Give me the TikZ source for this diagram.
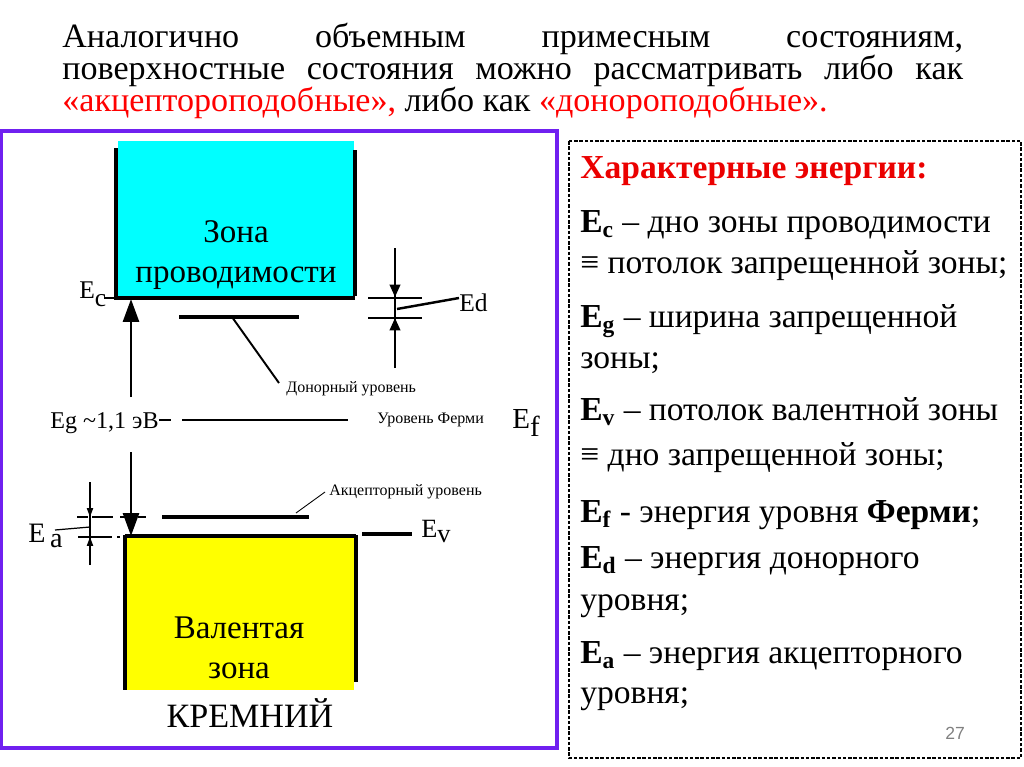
\documentclass[tikz,border=0pt]{standalone}
\usepackage{fontspec}
\setmainfont{Liberation Serif}
\setsansfont{Liberation Sans}
\usetikzlibrary{arrows.meta}
\definecolor{framepurple}{RGB}{112,32,240}
\definecolor{bandcyan}{RGB}{0,255,255}
\definecolor{bandyellow}{RGB}{255,255,0}
\definecolor{headred}{RGB}{235,0,0}
\newcommand{\titlesz}{\fontsize{19.4pt}{22pt}\selectfont}
\newcommand{\bigsz}{\fontsize{18.8pt}{22pt}\selectfont}
\newcommand{\listsz}{\fontsize{19.1pt}{22pt}\selectfont}
\newcommand{\smallsz}{\fontsize{9.1pt}{11pt}\selectfont}
\newcommand{\labsz}{\fontsize{13.7pt}{16pt}\selectfont}
\tikzset{%
  bandedge/.style={line width=2pt},
  level/.style={line width=2.2pt},
  thinline/.style={line width=0.7pt},
  bigtip/.style={line width=1.7pt, -{Triangle[length=13pt,width=9pt]}},
  smalltip/.style={line width=1.1pt, -{Triangle[length=7pt,width=6pt]}},
  tinytip/.style={line width=0.7pt, -{Triangle[length=5pt,width=3.5pt]}},
  txt/.style={inner sep=0pt, anchor=base west},
}

\begin{document}
\begin{tikzpicture}[x=0.02cm, y=-0.02cm]
\useasboundingbox (0,0) rectangle (1024,767);

% heading text
\node[txt, text width=18.02cm] (title1) at (62,48) {\titlesz Аналогично\hfill объемным\hfill примесным\hfill состояниям,};
\node[txt, text width=18.02cm] (title2) at (62,80) {\titlesz поверхностные\hfill состояния\hfill можно\hfill рассматривать\hfill либо\hfill как};
\node[txt] (title3) at (62,112) {\titlesz\textcolor{red}{«акцептороподобные»,} либо как \textcolor{red}{«донороподобные».}};

% frames
\draw[framepurple, line width=2.3pt] (1,131) rectangle (557,748);
\draw[line width=0.6pt, dash pattern=on 2pt off 1pt] (569,141) rectangle (1021,758);

% conduction band
\fill[bandcyan] (118,141) rectangle (354,296);
\draw[bandedge] (116,148) -- (116,300);
\draw[bandedge] (355,150) -- (355,296);
\draw[line width=2.4pt] (116,298) -- (355,298);
\node[txt] (zona1) at (236,242) [anchor=base] {\bigsz Зона};
\node[txt] (zona2) at (236,282) [anchor=base] {\bigsz проводимости};
\node[txt] (ec) at (79,298) {\fontsize{14.5pt}{16pt}\selectfont E\raisebox{-5pt}{c}};
\draw[thinline] (104,298) -- (116,298);

% valence band
\fill[bandyellow] (127,535) rectangle (354,690);
\draw[bandedge] (125,535) -- (125,690);
\draw[bandedge] (356,535) -- (356,682);
\draw[bandedge] (125,536) -- (356,536);
\node[txt] (val1) at (239,638) [anchor=base] {\bigsz Валентая};
\node[txt] (val2) at (239,678) [anchor=base] {\bigsz зона};
\node[txt] (kremniy) at (250,727) [anchor=base] {\fontsize{19.4pt}{22pt}\selectfont КРЕМНИЙ};

% band gap arrows
\coordinate (gup) at (131,397);
\coordinate (gdown) at (131,452);
\draw[bigtip] (gup) -- (131,299);
\draw[bigtip] (gdown) -- (131,536);

% Fermi level
\node[txt] (egap) at (50,428) {\labsz Eg \textasciitilde1,1 эВ};
\coordinate (f0) at (171,420);
\coordinate (f1) at (182,420);
\coordinate (f2) at (348,420);
\draw[line width=0.8pt] (egap.east |- f0) -- (f0);
\draw[line width=0.8pt] (f1) -- (f2);
\node[txt] (fermi) at (377,423) {\smallsz Уровень Ферми};
\node[txt] (ef) at (512,428) {\fontsize{16.5pt}{18pt}\selectfont E\raisebox{-5pt}{f}};

% donor level
\coordinate (d1) at (179,317);
\coordinate (d2) at (299,317);
\draw[level] (d1) -- (d2);
\node[txt] (donor) at (286,392) {\smallsz Донорный уровень};
\draw[line width=1.1pt] (232,317) -- (279,383);

% donor energy Ed
\draw[line width=1.1pt] (395,248) -- (395,368);
\draw[smalltip] (395,248) -- (395,297);
\draw[smalltip] (395,368) -- (395,318);
\draw[line width=1.1pt] (368,298) -- (422,298);
\draw[line width=1.1pt] (368,318) -- (422,318);
\node[txt] (ed) at (459,311) {\fontsize{14.5pt}{16pt}\selectfont Ed};
\draw[line width=1.4pt] (397,309) -- (ed.west |- 0,298);

% acceptor level
\coordinate (a1) at (162,517);
\coordinate (a2) at (309,517);
\draw[level] (a1) -- (a2);
\node[txt] (acceptor) at (329,495) {\smallsz Акцепторный уровень};
\draw[line width=0.5pt] (296,513) -- (325,492);

% acceptor energy Ea
\draw[thinline] (90,482) -- (90,565);
\draw[tinytip] (90,482) -- (90,517);
\draw[tinytip] (90,565) -- (90,537);
\draw[thinline] (77,517) -- (88,517) (92,517) -- (113,517);
\draw[thinline] (120,517) -- (126,517) (138,517) -- (146,517);
\draw[thinline] (78,537) -- (112,537) (117,537) -- (120,537);
\node[txt] (ea) at (28,542) {\fontsize{16pt}{18pt}\selectfont E\,\raisebox{-3pt}{a}};
\draw[thinline] (55,530) -- (90,527);

% valence band edge Ev
\draw[level] (362,534) -- (412,534);
\node[txt] (ev) at (421,537) {\fontsize{15pt}{17pt}\selectfont E\raisebox{-3.4pt}{v}};

% characteristic energies
\node[txt] (head) at (580,178) {\listsz\textcolor{headred}{\textbf{Характерные энергии:}}};
\node[txt] (r1) at (580,232) {\listsz\textbf{E\textsubscript{c}} – дно зоны проводимости};
\node[txt] (r2) at (580,273) {\listsz ≡ потолок запрещенной зоны;};
\node[txt] (r3) at (580,327) {\listsz\textbf{E\textsubscript{g}} – ширина запрещенной};
\node[txt] (r4) at (580,368) {\listsz зоны;};
\node[txt] (r5) at (580,420) {\listsz\textbf{E\textsubscript{v}} – потолок валентной зоны};
\node[txt] (r6) at (580,465) {\listsz ≡ дно запрещенной зоны;};
\node[txt] (r7) at (580,522) {\listsz\textbf{E\textsubscript{f}} - энергия уровня \textbf{Ферми};};
\node[txt] (r8) at (580,568) {\listsz\textbf{E\textsubscript{d}} – энергия донорного};
\node[txt] (r9) at (580,610) {\listsz уровня;};
\node[txt] (r10) at (580,663) {\listsz\textbf{E\textsubscript{a}} – энергия акцепторного};
\node[txt] (r11) at (580,703) {\listsz уровня;};
\node[txt] (pagenum) at (945,739) {\sffamily\fontsize{10pt}{12pt}\selectfont\color{gray}27};

\end{tikzpicture}
\end{document}
